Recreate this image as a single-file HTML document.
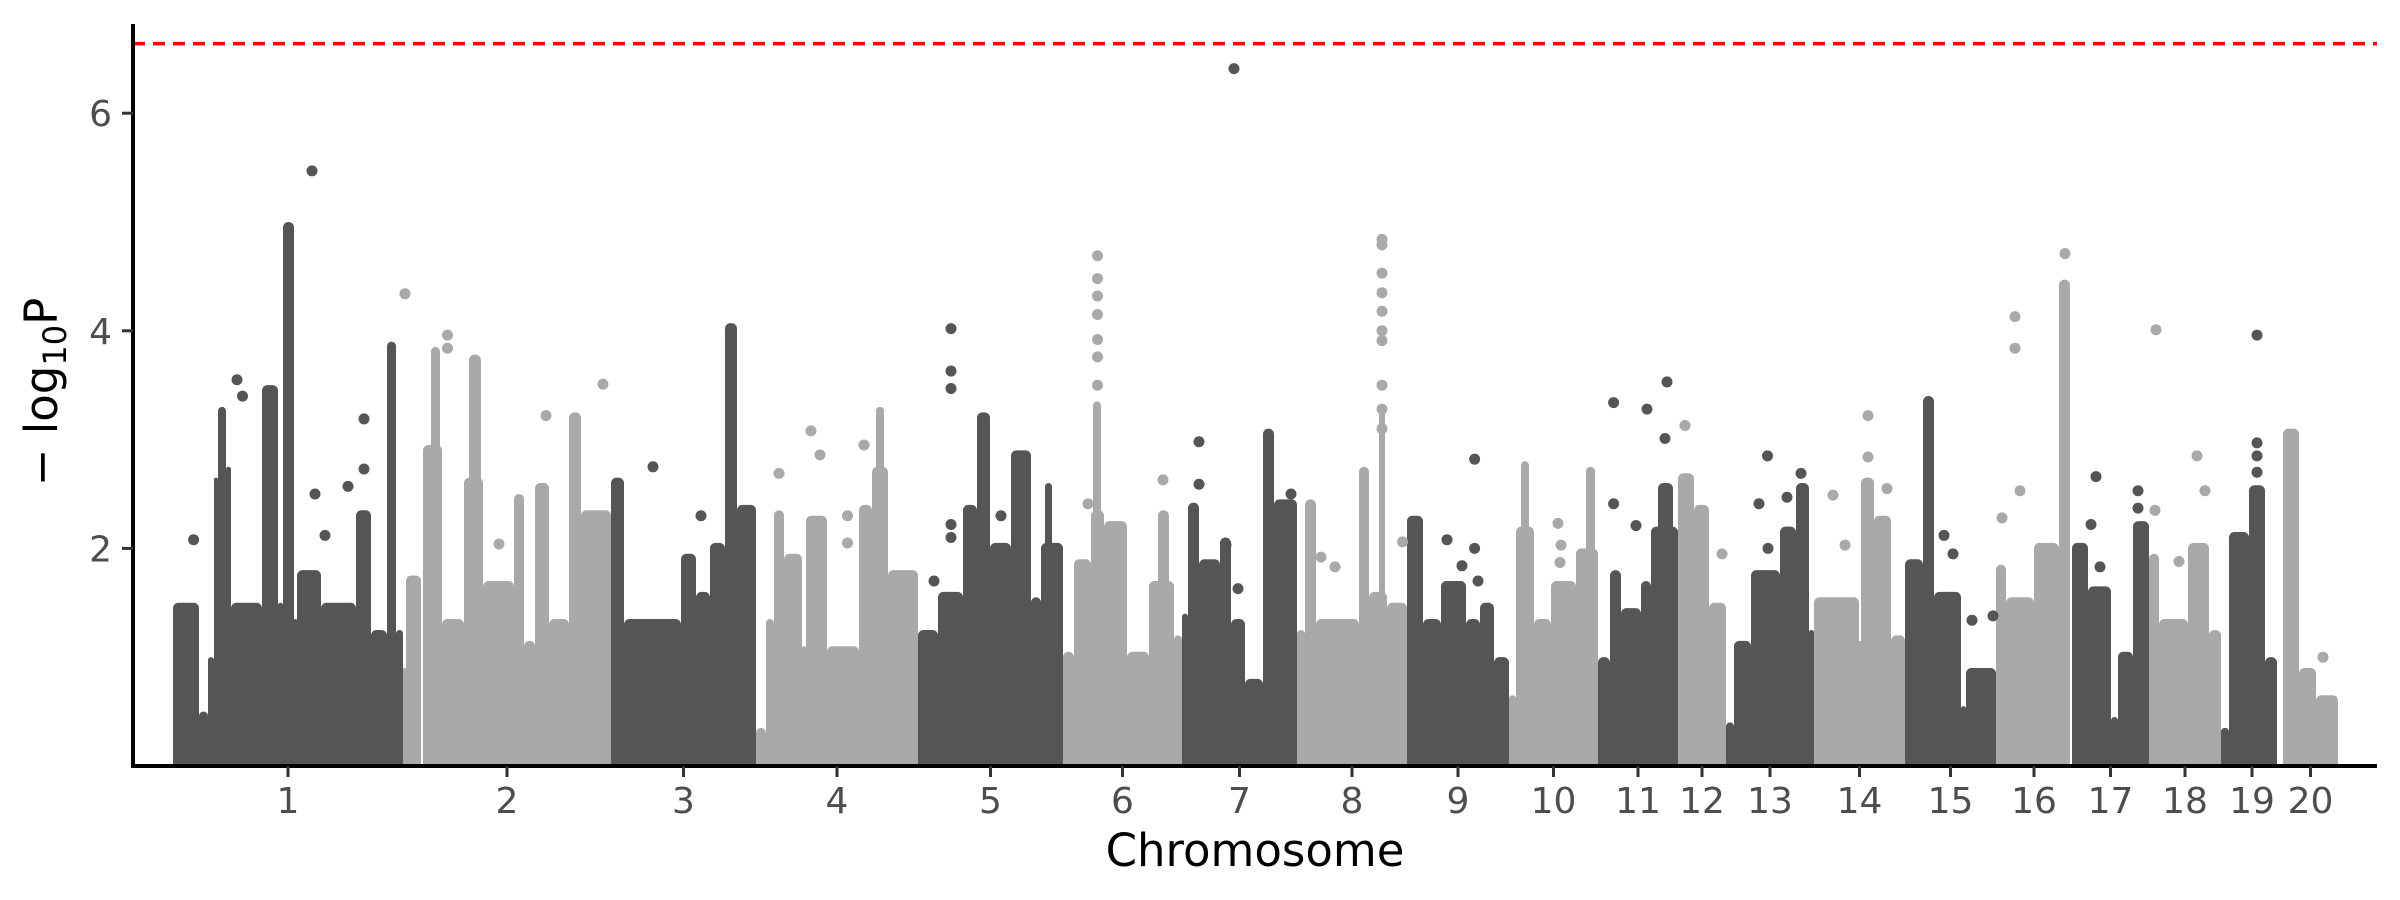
<!DOCTYPE html>
<html><head><meta charset="utf-8"><style>
html,body{margin:0;padding:0;background:#fff;}
svg{display:block;font-family:"DejaVu Sans","Liberation Sans",sans-serif;}
</style></head><body>
<svg id="chart" width="2400" height="900" viewBox="0 0 2400 900" xmlns="http://www.w3.org/2000/svg">
<g id="marks"></g>
<g id="axes"></g>
</svg>
<script>
const chrNames = ["1","2","3","4","5","6","7","8","9","10","11","12","13","14","15","16","17","18","19","20"];
const chrLengths = [230,208,145,162,145,119,115,110,102,89,80,48,88,91,91,76,77,72,62,55];
const yTicks = [2,4,6];
const threshold = 6.64;
// per-chromosome envelope of densely packed SNPs: [start, end, max -log10P]
const segments = [
[[0,26,1.45],[26,35,0.45],[35,41,0.95],[41,45,2.6],[45,53,3.25],[53,58,2.7],[58,89,1.45],[89,105,3.45],[105,110,1.45],[110,121,4.95],[121,124,1.3],[124,148,1.75],[148,183,1.45],[183,198,2.3],[198,214,1.2],[214,223,3.85],[223,230,1.2]],
[[0,3,0.85],[3,18,1.7],[20,39,2.9],[28,37,3.8],[39,61,1.3],[61,80,2.6],[66,78,3.73],[80,111,1.65],[111,121,2.45],[121,132,1.1],[132,146,2.55],[146,166,1.3],[166,178,3.2],[178,208,2.3]],
[[0,13,2.6],[13,70,1.3],[70,85,1.9],[85,99,1.55],[99,114,2.0],[114,126,4.02],[126,145,2.35]],
[[0,10,0.3],[10,18,1.3],[18,28,2.3],[28,46,1.9],[46,50,1.05],[50,71,2.25],[71,103,1.05],[103,116,2.35],[116,132,2.7],[120,128,3.25],[132,162,1.75]],
[[0,20,1.2],[20,45,1.55],[45,59,2.35],[59,72,3.2],[72,93,2.0],[93,113,2.85],[113,123,1.5],[123,145,2.0],[127,134,2.55]],
[[0,11,1.0],[11,28,1.85],[28,41,2.3],[30,38,3.3],[41,64,2.2],[64,86,1.0],[86,111,1.65],[95,106,2.3],[111,119,1.15]],
[[0,6,1.35],[6,17,2.37],[17,38,1.85],[38,49,2.05],[49,63,1.3],[63,81,0.75],[81,92,3.05],[92,115,2.4]],
[[0,8,1.2],[8,19,2.4],[19,62,1.3],[62,72,2.7],[72,90,1.55],[82,88,3.25],[90,110,1.45]],
[[0,16,2.25],[16,34,1.3],[34,59,1.65],[59,73,1.3],[73,87,1.45],[87,102,0.95]],
[[0,7,0.6],[7,25,2.15],[12,20,2.75],[25,42,1.3],[42,67,1.65],[67,89,1.95],[77,86,2.7]],
[[0,12,0.95],[12,23,1.75],[23,43,1.4],[43,53,1.65],[53,80,2.15],[60,75,2.55]],
[[0,16,2.64],[16,31,2.35],[31,48,1.45]],
[[0,8,0.35],[8,25,1.1],[25,54,1.75],[54,70,2.15],[70,83,2.55],[83,88,1.2]],
[[0,45,1.5],[45,47,1.1],[47,60,2.6],[60,77,2.25],[77,91,1.15]],
[[0,18,1.85],[18,29,3.35],[29,56,1.55],[56,61,0.5],[61,91,0.85]],
[[0,10,1.8],[10,38,1.5],[38,63,2.0],[63,74,4.42]],
[[0,16,2.0],[16,39,1.6],[39,46,0.4],[46,61,1.0],[61,77,2.2]],
[[0,10,1.9],[10,39,1.3],[39,60,2.0],[60,72,1.2]],
[[0,8,0.3],[8,28,2.1],[28,44,2.53],[44,56,0.95]],
[[0,16,3.05],[16,33,0.85],[33,55,0.6]]
];
const outChr = [1,1,1,1,1,1,1,1,1, 2,2,2,2,2,2, 3,3, 4,4,4,4,4,4, 5,5,5,5,5,5,5, 6,6,6,6,6,6,6,6,6, 7,7,7,7,7,7, 8,8,8,8,8,8,8,8,8,8,8,8,8, 9,9,9,9,9, 10,10,10, 11,11,11,11,11,11, 12,12, 13,13,13,13,13, 14,14,14,14,14, 15,15,15,15, 16,16,16,16,16, 17,17,17,17,17, 18,18,18,18,18, 19,19,19,19, 20];
const outPos = [139,142,152,191,191,175,64,69.5,20.6, 2,44.5,44.5,200,96,143, 42,90, 23,55,64,91.5,91.5,108, 33,33,33,33,33,16,83, 34.5,34.5,34.5,34.5,34.5,34.5,34.5,25,100, 52,17,17,44,56,109, 85,85,85,85,85,85,85,85,85,85,105.5,38,24, 67.6,67.6,55,40,71, 49,52,51, 15.6,49,69,67,15.6,38, 7,44, 41.5,33,42,61,75, 54,54,19,73,31, 39,48,67,88, 19,19,69,24,6, 24,19,28,66,66, 7,6,48,56,30, 36,36,36,36, 40];
const outVal = [5.47,2.5,2.12,3.19,2.73,2.57,3.55,3.4,2.08, 4.34,3.96,3.84,3.51,2.04,3.22, 2.75,2.3, 2.69,3.08,2.86,2.3,2.05,2.95, 4.02,3.63,3.47,2.22,2.1,1.7,2.3, 4.69,4.48,4.32,4.15,3.92,3.76,3.5,2.41,2.63, 6.41,2.98,2.59,2.03,1.63,2.5, 4.84,4.79,4.53,4.35,4.18,4.0,3.91,3.5,3.28,3.1,2.06,1.83,1.92, 2.82,2.0,1.84,2.08,1.7, 2.23,2.03,1.87, 3.34,3.28,3.53,3.01,2.41,2.21, 3.13,1.95, 2.85,2.41,2.0,2.47,2.69, 3.22,2.84,2.49,2.55,2.03, 2.12,1.95,1.34,1.38, 4.13,3.84,4.71,2.53,2.28, 2.66,2.22,1.83,2.53,2.37, 4.01,2.35,2.85,2.53,1.88, 3.96,2.97,2.85,2.7, 1.0];

const NS = "http://www.w3.org/2000/svg";
const X0 = 133, X1 = 2377, Y0 = 766, YTOP = 24;
const DATA_L = 173, DATA_R = 2338;
const R = 5.5;
const DARK = "#555555", LIGHT = "#a9a9a9";
const total = chrLengths.reduce((a,b)=>a+b,0);
const chrStart = [];
let acc = 0;
for (const L of chrLengths) { chrStart.push(acc); acc += L; }
function xs(p){ return DATA_L + p*(DATA_R-DATA_L)/total; }
function ys(v){ return Y0 - v*108.8; }
function mk(tag, attrs, parent){
  const e = document.createElementNS(NS, tag);
  for (const k in attrs) e.setAttribute(k, attrs[k]);
  parent.appendChild(e);
  return e;
}
const marks = document.getElementById('marks');
const axes = document.getElementById('axes');

segments.forEach((segs, ci) => {
  const col = ci % 2 === 0 ? DARK : LIGHT;
  const g = mk('g', {fill: col}, marks);
  
  
  segs.forEach(s => {
    const xa = xs(chrStart[ci] + s[0]), xb = xs(chrStart[ci] + s[1]);
    const yt = ys(s[2]) - R;
    const r = Math.min(R, (xb - xa) / 2);
    const d = `M${xa},${Y0} L${xa},${yt + r} A${r},${r} 0 0 1 ${xa + r},${yt} L${xb - r},${yt} A${r},${r} 0 0 1 ${xb},${yt + r} L${xb},${Y0} Z`;
    const p = mk('path', {d: d}, g);
    
    
  });
});

for (let i = 0; i < outChr.length; i++) {
  const ci = outChr[i] - 1;
  const c = mk('circle', {cx: xs(chrStart[ci] + outPos[i]), cy: ys(outVal[i]), r: R, fill: ci % 2 === 0 ? DARK : LIGHT}, marks);
  
  
}

const th = mk('line', {x1: X0, x2: X1, y1: ys(threshold), y2: ys(threshold), stroke: '#ff0000', 'stroke-width': 3.5, 'stroke-dasharray': '12 8'}, axes);



const ya = mk('line', {x1: X0, x2: X0, y1: YTOP, y2: Y0 + 2, stroke: '#000', 'stroke-width': 4}, axes);


const xa = mk('line', {x1: X0 - 2, x2: X1, y1: Y0, y2: Y0, stroke: '#000', 'stroke-width': 4}, axes);



yTicks.forEach(v => {
  const t = mk('line', {x1: X0 - 11, x2: X0, y1: ys(v), y2: ys(v), stroke: '#333', 'stroke-width': 3}, axes);
  
  
  const l = mk('text', {x: 112, y: ys(v) + 13, 'text-anchor': 'end', 'font-size': 36, fill: '#4d4d4d'}, axes);
  l.textContent = String(v);
  
  
});

chrNames.forEach((n, ci) => {
  const x = xs(chrStart[ci] + chrLengths[ci] / 2);
  const t = mk('line', {x1: x, x2: x, y1: Y0, y2: Y0 + 11, stroke: '#333', 'stroke-width': 3}, axes);
  
  
  const l = mk('text', {x: x, y: 813, 'text-anchor': 'middle', 'font-size': 36, fill: '#4d4d4d'}, axes);
  l.textContent = n;
  
  
});
</script>
<svg style="position:absolute;left:0;top:0" width="2400" height="900" xmlns="http://www.w3.org/2000/svg">
<text x="1255" y="866" text-anchor="middle" font-size="45" fill="#000" font-family="DejaVu Sans, Liberation Sans, sans-serif">Chromosome</text>
<text transform="translate(57,392) rotate(-90)" text-anchor="middle" font-size="45" fill="#000" font-family="DejaVu Sans, Liberation Sans, sans-serif">− log<tspan font-size="32" dy="9">10</tspan><tspan dy="-9">P</tspan></text>
</svg>
</body></html>
